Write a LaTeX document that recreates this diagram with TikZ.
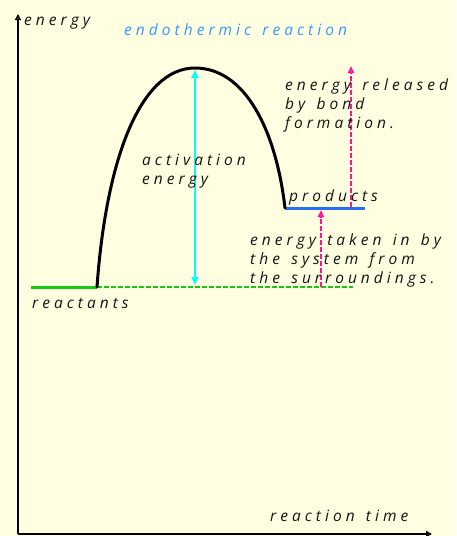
\documentclass[tikz,border=0pt]{standalone}
\usepackage{fontspec}
\setmainfont{Open Sans}[LetterSpace=26,WordSpace=1.4]
\usetikzlibrary{arrows.meta}
\definecolor{bg}{RGB}{255,254,225}
\definecolor{titleblue}{RGB}{51,153,255}
\definecolor{prodblue}{RGB}{40,110,240}
\definecolor{reacgreen}{RGB}{20,200,20}
\definecolor{acol}{RGB}{0,255,255}
\definecolor{mag}{RGB}{255,20,150}
\definecolor{txt}{RGB}{20,20,20}
\tikzset{
  lbl/.style={anchor=base west, inner sep=0pt, font=\fontsize{15.5}{19}\selectfont\itshape, text=txt},
  axis/.style={line width=2pt, -{Triangle[open,length=6pt,width=6pt]}},
  magarrow/.style={draw=mag, line width=2.5pt, dash pattern=on 5pt off 2pt, -{Triangle[open,length=7pt,width=6pt]}},
}
\begin{document}
\begin{tikzpicture}[x=1pt,y=-1pt]
\fill[bg] (0,0) rectangle (456,536);
\useasboundingbox (0,0) rectangle (456,536);
% axes
\coordinate (o) at (18,534);
\coordinate (ytop) at (18,14);
\coordinate (xend) at (432,534);
\draw[axis] (o) -- (ytop);
\draw[axis] (o) -- (xend);
\node[lbl] (elab) at (24,25) {energy};
\node[lbl] (xlab) at (270,521) {reaction time};
\node[lbl, text=titleblue] (title) at (124,35) {endothermic reaction};
% levels
\coordinate (r0) at (31,287);
\coordinate (r1) at (97,287);
\coordinate (r2) at (353,287);
\coordinate (peak) at (195,68);
\coordinate (p0) at (285,208);
\coordinate (p1) at (365,208);
\draw[reacgreen, line width=3pt] (r0) -- (r1);
\draw[reacgreen, line width=1.5pt, dash pattern=on 5pt off 2pt] (r1) -- (r2);
\draw[prodblue, line width=3pt] (p0) -- (p1);
\draw[line width=3pt, line cap=round] (r1) .. controls (106,160) and (140,68) .. (peak) .. controls (245,68) and (276,130) .. (p0);
% activation energy arrow
\coordinate (a0) at (195,285);
\coordinate (a1) at (195,70);
\draw[acol, line width=2pt, {Triangle[open,length=8pt,width=7pt]}-{Triangle[open,length=8pt,width=7pt]}] (a0) -- (a1);
% magenta arrows
\coordinate (m1b) at (351,207);
\coordinate (m1t) at (351,66);
\coordinate (m2b) at (321,287);
\coordinate (m2t) at (321,210);
\draw[magarrow] (m1b) -- (m1t);
\draw[magarrow] (m2b) -- (m2t);
% labels
\node[lbl] (react) at (32,308) {reactants};
\node[lbl] (prod) at (289,201) {products};
\node[lbl] (act) at (142,165) {activation};
\node[lbl] (act2) at (142,184) {energy};
\node[lbl] (rel1) at (285,90) {energy released};
\node[lbl] (rel2) at (285,109) {by bond};
\node[lbl] (rel3) at (285,128) {formation.};
\node[lbl] (tak1) at (250,245) {energy taken in by};
\node[lbl] (tak2) at (250,264) {the system from};
\node[lbl] (tak3) at (250,283) {the surroundings.};
\end{tikzpicture}
\end{document}
